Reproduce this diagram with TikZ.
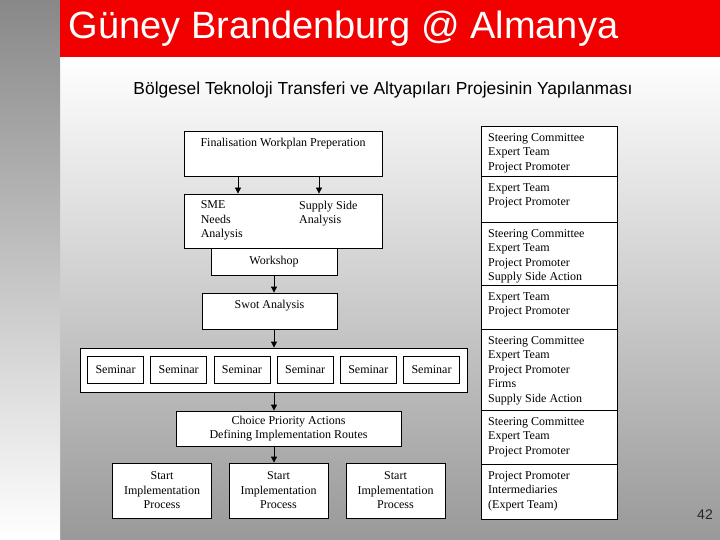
\documentclass[tikz,border=0pt]{standalone}
\usepackage{fontspec}
\setmainfont{Liberation Serif}
\newfontfamily\slidefont{Liberation Sans}
\usetikzlibrary{arrows.meta,positioning}
\definecolor{slidered}{HTML}{F20000}
\definecolor{slidegrey}{HTML}{999999}
\definecolor{stripgrey}{HTML}{888888}

\begin{document}
\begin{tikzpicture}[
    x=1pt, y=-1pt,
    >={Triangle[width=6pt,length=6pt]},
    font=\fontsize{12}{14.5}\selectfont,
    box/.style={draw, fill=white, line width=0.8pt, inner sep=0pt, align=center},
    toptext/.style={anchor=north, inner sep=0pt, yshift=-7pt, align=left},
    rolebox/.style={draw, fill=white, line width=1.2pt, anchor=north west,
                    minimum width=136pt, inner sep=0pt},
    roletext/.style={anchor=north west, align=left, inner sep=0pt,
                     xshift=7pt, yshift=-7pt},
    seminar/.style={box, minimum width=56pt, minimum height=27pt},
    startbox/.style={box, minimum width=99pt, minimum height=55pt},
    flow/.style={->, line width=0.8pt},
]

\def\colx{481}   % left edge of the role column
\def\semgap{63.2} % spacing of the seminar boxes

% ══════════════════════════════════════════════════════════════
% SLIDE BACKGROUND
% ══════════════════════════════════════════════════════════════
\useasboundingbox (0,0) rectangle (720,540);
\shade[top color=white, bottom color=slidegrey] (60,57) rectangle (720,540);
\shade[top color=stripgrey, bottom color=white] (0,0) rectangle (60,540);
\fill[slidered] (60,0) rectangle (720,57);

\node[anchor=west, text=white, font=\slidefont\fontsize{38}{40}\selectfont]
    (title) at (65,29) {Güney Brandenburg @ Almanya};
\node[font=\slidefont\fontsize{17.4}{19}\selectfont]
    (subtitle) at (383,90) {Bölgesel Teknoloji Transferi ve Altyapıları Projesinin Yapılanması};
\node[font=\slidefont\fontsize{14}{16}\selectfont, text=black!85]
    (pagenum) at (705,515) {42};

% ══════════════════════════════════════════════════════════════
% PROCESS FLOW
% ══════════════════════════════════════════════════════════════

% ── Preparation and analysis ──
\node[box, minimum width=198pt, minimum height=45pt,
      label={[toptext]north:Finalisation Workplan Preperation}]
    (fin) at (283,153.5) {};
\node[box, minimum width=198pt, minimum height=54pt,
      label={[toptext, anchor=north west, xshift=17pt]north west:SME\\Needs\\Analysis},
      label={[toptext, anchor=north west, xshift=16pt]north:Supply Side\\Analysis}]
    (sme) at (283,221) {};
\node[box, minimum width=126pt, minimum height=27pt] (ws) at (274,261.5) {Workshop};
\node[box, minimum width=135pt, minimum height=36pt,
      label={[toptext]north:Swot Analysis}]
    (swot) at (269.5,311) {};

% ── Seminar row ──
\node[box, minimum width=387pt, minimum height=44pt] (semrow) at (273.5,370) {};
\foreach \i in {1,...,6} {
    \node[seminar] (sem\i) at ({115.5+(\i-1)*\semgap},369.5) {Seminar};
}

% ── Priorities and implementation ──
\node[box, minimum width=225pt, minimum height=35pt] (choice) at (288.5,428.5)
    {Choice Priority Actions\\Defining Implementation Routes};
\node[startbox] (start1) at (162,490.5) {Start\\Implementation\\Process};
\node[startbox] (start2) at (278.5,490.5) {Start\\Implementation\\Process};
\node[startbox] (start3) at (395.5,490.5) {Start\\Implementation\\Process};

\draw[flow] ([xshift=-45pt]fin.south) -- ([xshift=-45pt]sme.north);
\draw[flow] ([xshift=36pt]fin.south) -- ([xshift=36pt]sme.north);
\draw[flow] (ws.south) -- (ws.south |- swot.north);
\draw[flow] (swot.south -| ws.south) -- (semrow.north -| ws.south);
\draw[flow] (semrow.south -| ws.south) -- (choice.north -| ws.south);
\draw[flow] (choice.south -| ws.south) -- (start2.north -| ws.south);

% ══════════════════════════════════════════════════════════════
% ROLE COLUMN
% ══════════════════════════════════════════════════════════════
\foreach \name/\rowy/\rowh/\txt in {
    role1/126/50/{Steering Committee\\Expert Team\\Project Promoter},
    role2/176/46/{Expert Team\\Project Promoter},
    role3/222/63/{Steering Committee\\Expert Team\\Project Promoter\\Supply Side Action},
    role4/285/44/{Expert Team\\Project Promoter},
    role5/329/81/{Steering Committee\\Expert Team\\Project Promoter\\Firms\\Supply Side Action},
    role6/410/54/{Steering Committee\\Expert Team\\Project Promoter},
    role7/464/55/{Project Promoter\\Intermediaries\\(Expert Team)}} {
    \node[rolebox, minimum height=\rowh pt, label={[roletext]north west:\txt}]
        (\name) at (\colx,\rowy) {};
}

\end{tikzpicture}
\end{document}
